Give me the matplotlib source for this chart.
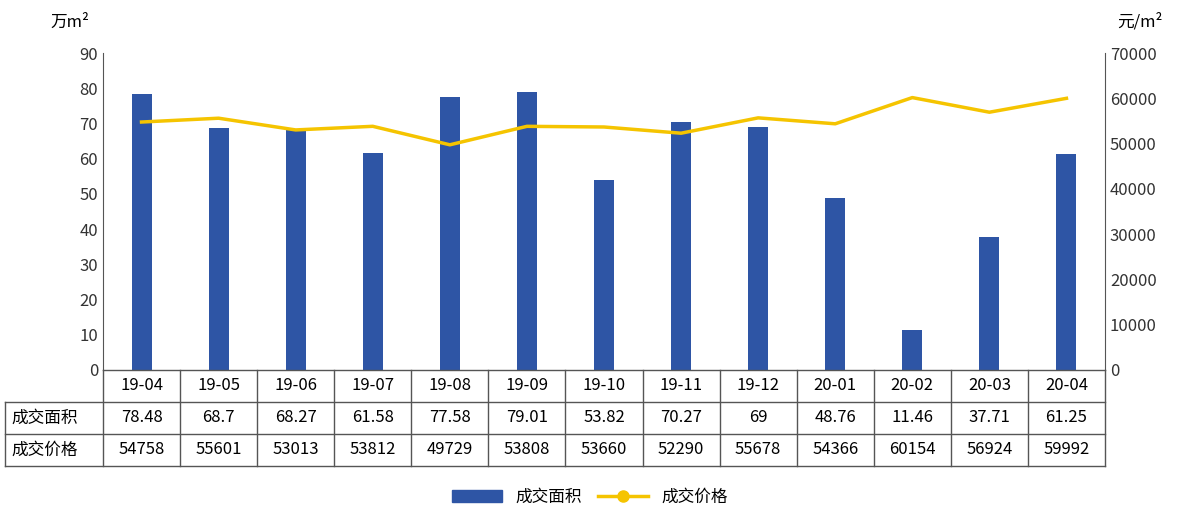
import matplotlib.pyplot as plt
from matplotlib.lines import Line2D

plt.rcParams['font.family'] = ['Noto Sans CJK SC', 'DejaVu Sans']

months = ['19-04', '19-05', '19-06', '19-07', '19-08', '19-09', '19-10',
          '19-11', '19-12', '20-01', '20-02', '20-03', '20-04']
area = [78.48, 68.7, 68.27, 61.58, 77.58, 79.01, 53.82,
        70.27, 69, 48.76, 11.46, 37.71, 61.25]
area_labels = ['78.48', '68.7', '68.27', '61.58', '77.58', '79.01', '53.82',
               '70.27', '69', '48.76', '11.46', '37.71', '61.25']
price = [54758, 55601, 53013, 53812, 49729, 53808, 53660,
         52290, 55678, 54366, 60154, 56924, 59992]

bar_color = '#2E55A5'
line_color = '#F5C400'

fig = plt.figure(figsize=(11.93, 5.14), dpi=100)
ax = fig.add_axes([103 / 1193, 1 - 370 / 514, 1002 / 1193, 317 / 514])
ax2 = ax.twinx()

x = list(range(len(months)))
ax.bar(x, area, width=0.26, color=bar_color, zorder=2)
ax2.plot(x, price, color=line_color, linewidth=2.5, zorder=3)

ax.set_xlim(-0.5, len(months) - 0.5)
ax.set_ylim(0, 90)
ax.set_yticks(range(0, 91, 10))
ax2.set_ylim(0, 70000)
ax2.set_yticks(range(0, 70001, 10000))
ax.set_xticks([])
for a in (ax, ax2):
    a.tick_params(axis='y', length=0, labelsize=12, colors='#333333')
    for s in a.spines.values():
        s.set_visible(False)
ax.spines['left'].set_visible(True)
ax2.spines['right'].set_visible(True)
ax.spines['left'].set_color('#555555')
ax2.spines['right'].set_color('#555555')
ax.set_zorder(ax2.get_zorder() + 1)
ax.patch.set_visible(False)
ax2.set_zorder(0)
# draw the line above bars: put line on ax instead via scaling
ax2.lines[0].remove()
ax.plot(x, [p * 90 / 70000 for p in price], color=line_color, linewidth=2.5, zorder=3)

fig.text(70 / 1193, 1 - 22 / 514, '万m²', fontsize=12, ha='center', va='center')
fig.text(1140 / 1193, 1 - 22 / 514, '元/m²', fontsize=12, ha='center', va='center')

# data table
tr = ax.get_xaxis_transform()
rh = 32 / 317
x_left = -0.5 - (98 / 1002) * len(months)
line_kw = dict(color='#555555', linewidth=1, clip_on=False, transform=tr)
for i in range(4):
    xs = -0.5 if i == 0 else x_left
    ax.plot([xs, len(months) - 0.5], [-i * rh, -i * rh], **line_kw)
for i in range(len(months) + 1):
    ax.plot([i - 0.5, i - 0.5], [0, -3 * rh], **line_kw)
ax.plot([x_left, x_left], [-rh, -3 * rh], **line_kw)

for i, m in enumerate(months):
    ax.text(i, -0.5 * rh, m, transform=tr, ha='center', va='center', fontsize=12)
    ax.text(i, -1.5 * rh, area_labels[i], transform=tr, ha='center', va='center', fontsize=12)
    ax.text(i, -2.5 * rh, str(price[i]), transform=tr, ha='center', va='center', fontsize=12)
ax.text(x_left + 0.08, -1.5 * rh, '成交面积', transform=tr, ha='left', va='center', fontsize=12)
ax.text(x_left + 0.08, -2.5 * rh, '成交价格', transform=tr, ha='left', va='center', fontsize=12)

handles = [plt.Rectangle((0, 0), 1, 1, color=bar_color),
           Line2D([0], [0], color=line_color, linewidth=2.5, marker='o', markersize=8)]
fig.legend(handles, ['成交面积', '成交价格'], loc='center', ncol=2,
           bbox_to_anchor=(590 / 1193, 1 - 497 / 514), frameon=False,
           fontsize=12, handlelength=3, columnspacing=1.0)

fig.savefig('out.png', dpi=100)
